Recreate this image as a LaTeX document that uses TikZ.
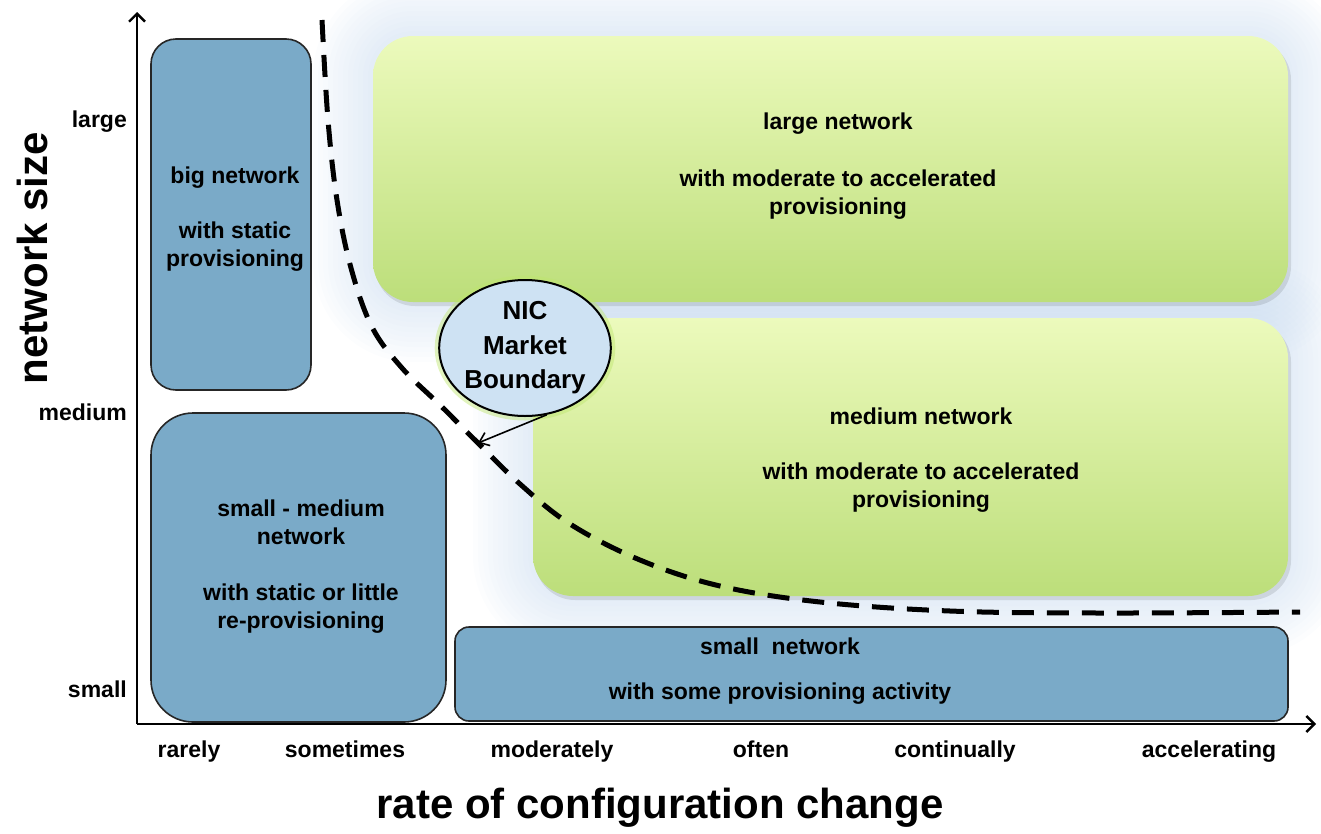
\documentclass[tikz,border=0pt]{standalone}
\usepackage{fontspec}
\setmainfont{Liberation Sans}
\usetikzlibrary{arrows.meta,shapes.geometric}
\definecolor{boxblue}{RGB}{122,170,200}
\definecolor{greentop}{RGB}{236,250,188}
\definecolor{greenbot}{RGB}{188,222,122}
\definecolor{glowblue}{RGB}{190,212,236}
\definecolor{ellblue}{RGB}{206,226,243}
\definecolor{glowgreen}{RGB}{190,230,110}
\begin{document}
\begin{tikzpicture}[x=1pt,y=-1pt,
  bluebox/.style={draw=black!85, line width=1.6pt, fill=boxblue, inner sep=0pt},
  greenbox/.style={top color=greentop, bottom color=greenbot, draw=none, inner sep=0pt},
  lbl/.style={font=\fontsize{23}{28}\selectfont\bfseries, align=center, inner sep=0pt},
  biglbl/.style={font=\fontsize{42}{50}\selectfont\bfseries, inner sep=0pt},
  axisline/.style={line width=2.4pt, -{Straight Barb[length=8pt,width=16pt,line width=2.4pt]}},
  boundaryline/.style={line width=5pt, dash pattern=on 22pt off 13pt},
  callout/.style={ellipse, draw=black, line width=2pt, fill=ellblue, inner sep=0pt,
    font=\fontsize{26}{34.5}\selectfont\bfseries, align=center,
    preaction={draw=glowgreen, line width=9pt, opacity=0.45}},
  pointer/.style={line width=1.6pt, -{Straight Barb[length=9pt,width=14pt,line width=1.6pt]}}
]
\useasboundingbox (0,0) rectangle (1321,833);

% soft blue glow behind the green boxes
\foreach \e in {60,55,...,5}{
  \fill[glowblue, opacity=0.045, rounded corners={40+\e}] ({373-\e},{36-\e}) rectangle ({1288+\e},{302+\e});
  \fill[glowblue, opacity=0.045, rounded corners={40+\e}] ({533-\e},{318-\e}) rectangle ({1288+\e},{596+\e});
}
% drop shadows of the green boxes
\fill[black, opacity=0.1, rounded corners=40pt] (375,40) rectangle (1291,306);
\fill[black, opacity=0.1, rounded corners=40pt] (535,322) rectangle (1291,600);

% boxes
\node[bluebox, minimum width=160pt, minimum height=351pt, rounded corners=25pt] (big) at (231,214.5) {};
\node[bluebox, minimum width=295pt, minimum height=309pt, rounded corners=42pt] (smmed) at (298.5,567.5) {};
\node[bluebox, minimum width=833pt, minimum height=94pt, rounded corners=14pt] (smallnet) at (871.5,674) {};
\node[greenbox, minimum width=915pt, minimum height=266pt, rounded corners=40pt] (large) at (830.5,169) {};
\node[greenbox, minimum width=755pt, minimum height=278pt, rounded corners=40pt] (medium) at (910.5,457) {};

% box texts
\node[lbl] (bigt) at (235,219.5) {big network\\[27pt]with static\\provisioning};
\node[lbl] (smmedt) at (301,567) {small - medium\\network\\[28pt]with static or little\\re-provisioning};
\node[lbl] (smallt) at (780,671.5) {small~ network\\[17pt]with some provisioning activity};
\node[lbl] (larget) at (838,166.5) {large network\\[29pt]with moderate to accelerated\\provisioning};
\node[lbl] (mediumt) at (921,460) {medium network\\[27pt]with moderate to accelerated\\provisioning};

% market boundary
\coordinate (b1) at (322,20);
\coordinate (b2) at (1300,612);
\draw[boundaryline] plot[smooth, tension=0.6] coordinates {(b1) (328,120) (337,200) (351,268) (372,327) (402,368) (440,405) (478,443) (520,484) (570,524) (640,560) (720,586) (820,602) (950,611) (1100,613) (b2)};

% callout
\node[callout, minimum width=160pt, minimum height=136pt] (nic) at (525,348) {NIC\\Market\\Boundary};
\coordinate (tip) at (478,443);
\draw[pointer] (nic.-72) -- (tip);

% axes
\coordinate (O) at (137,724);
\coordinate (ytip) at (137,12);
\coordinate (xtip) at (1316,724);
\draw[axisline] (O) -- (ytip);
\draw[axisline] (O) -- (xtip);

% axis tick labels
\node[lbl, anchor=base east] (yl) at (127,127) {large};
\node[lbl, anchor=base east] (ym) at (127,420) {medium};
\node[lbl, anchor=base east] (ys) at (127,697) {small};
\node[lbl, anchor=base] (x1) at (189,757) {rarely};
\node[lbl, anchor=base] (x2) at (345,757) {sometimes};
\node[lbl, anchor=base] (x3) at (552,757) {moderately};
\node[lbl, anchor=base] (x4) at (761,757) {often};
\node[lbl, anchor=base] (x5) at (955,757) {continually};
\node[lbl, anchor=base] (x6) at (1209,757) {accelerating};

% axis titles
\node[biglbl, rotate=90] (ytitle) at (32,258) {network size};
\node[biglbl] (xtitle) at (660,808) {rate of configuration change};
\end{tikzpicture}
\end{document}
